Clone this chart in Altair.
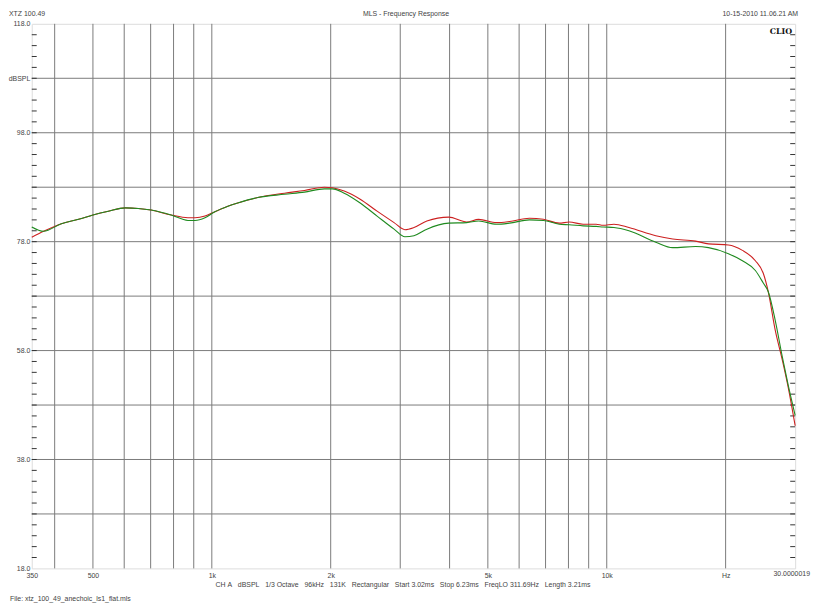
import altair as alt
import pandas as pd

# ---- data ----
freq = [350, 375, 416, 460, 500, 547, 604, 651, 702, 789, 870, 907, 961, 1018, 1098,
        1163, 1307, 1528, 1716, 1928, 2019, 2164, 2375, 2621, 2894, 3083, 3250, 3504,
        3980, 4420, 4738, 5260, 5673, 6370, 6910, 7581, 8035, 8714, 9397, 9790, 10430,
        11380, 13310, 14690, 16790, 18100, 20330, 22060, 23790, 24910, 25650, 26700,
        27810, 28800, 30000]
red = [78.8, 79.9, 81.3, 82.1, 82.9, 83.6, 84.2, 84.1, 83.8, 82.9, 82.4, 82.4, 82.7, 83.5, 84.5,
       85.1, 86.1, 86.9, 87.4, 88.0, 87.9, 87.3, 85.8, 83.6, 81.5, 80.2, 80.6, 81.8,
       82.5, 81.6, 82.1, 81.5, 81.7, 82.3, 82.1, 81.4, 81.6, 81.2, 81.2, 81.0, 81.2,
       80.6, 79.1, 78.5, 78.1, 77.6, 77.4, 76.4, 74.5, 72.2, 68.8, 61.8,
       56.4, 51.3, 44.2]
green = [80.7, 79.9, 81.3, 82.1, 82.9, 83.6, 84.2, 84.1, 83.8, 82.9, 81.9, 81.9, 82.4, 83.5, 84.5,
         85.1, 86.1, 86.7, 87.1, 87.7, 87.7, 86.9, 85.1, 82.7, 80.3, 78.9, 79.1, 80.3,
         81.4, 81.5, 81.8, 81.2, 81.4, 82.0, 81.9, 81.2, 81.1, 80.9, 80.8, 80.7, 80.6,
         80.0, 77.9, 76.9, 77.1, 76.9, 75.8, 74.5, 72.7, 70.4, 68.8, 63.6,
         57.0, 51.7, 46.1]

grid_x = [400, 500, 600, 700, 800, 900, 1000, 2000, 3000, 4000, 5000, 6000, 7000,
          8000, 9000, 10000, 20000]
grid_y = [28, 38, 48, 58, 68, 78, 88, 98, 108]
minor_y = [20, 22, 24, 26, 28, 30, 32, 34, 36, 38, 40, 42, 44, 46, 48, 50, 52, 54, 56,
           58, 60, 62, 64, 66, 68, 70, 72, 74, 76, 78, 80, 82, 84, 86, 88, 90, 92, 94,
           96, 98, 100, 102, 104, 106, 108, 110, 112, 114, 116]
x_label_values = [350, 500, 1000, 2000, 5000, 10000, 20000]
x_label_texts = ["350", "500", "1k", "2k", "5k", "10k", "Hz"]
y_label_values = [18, 38, 58, 78, 98, 108, 118]

W, H = 771, 550
FONT = "Liberation Sans, Arial"
FS = 7
TXT = "#444444"

df_red = pd.DataFrame({"f": freq, "db": red})
df_green = pd.DataFrame({"f": freq, "db": green})
df_gx = pd.DataFrame({"f": grid_x})
df_gy = pd.DataFrame({"db": grid_y})
df_my = pd.DataFrame({"db": minor_y})

xscale = alt.Scale(type="log", domain=[350, 30000], nice=False, zero=False)
yscale = alt.Scale(domain=[18, 118], nice=False, zero=False)

lab_expr = ""
for v, t in zip(x_label_values, x_label_texts):
    lab_expr += f"datum.value == {v} ? '{t}' : "
lab_expr += "''"

xaxis = alt.Axis(values=x_label_values, labelExpr=lab_expr, grid=False, ticks=False,
                 domain=False, title=None, labelFont=FONT, labelFontSize=FS,
                 labelColor=TXT, labelPadding=3, labelFlush=False, labelOverlap=False)
yaxis = alt.Axis(values=y_label_values,
                 labelExpr="datum.value == 108 ? 'dBSPL' : format(datum.value, '.1f')",
                 grid=False, ticks=False, domain=False, title=None, labelFont=FONT,
                 labelFontSize=FS, labelColor=TXT, labelPadding=2, labelFlush=False,
                 labelOverlap=False)

base_grid_x = alt.Chart(df_gx).mark_rule(color="#7a7a7a", strokeWidth=1).encode(
    x=alt.X("f:Q", scale=xscale, axis=xaxis),
)
grid_h = alt.Chart(df_gy).mark_rule(color="#7a7a7a", strokeWidth=1).encode(
    y=alt.Y("db:Q", scale=yscale, axis=yaxis),
)
ticks_left = alt.Chart(df_my).mark_rule(color="#333333", strokeWidth=1).encode(
    y=alt.Y("db:Q", scale=yscale), x=alt.value(0), x2=alt.value(5)
)
ticks_right = alt.Chart(df_my).mark_rule(color="#333333", strokeWidth=1).encode(
    y=alt.Y("db:Q", scale=yscale), x=alt.value(W - 5), x2=alt.value(W)
)
line_red = alt.Chart(df_red).mark_line(color="#cc2020", strokeWidth=1.1,
                                        interpolate="monotone").encode(
    x=alt.X("f:Q", scale=xscale), y=alt.Y("db:Q", scale=yscale)
)
line_green = alt.Chart(df_green).mark_line(color="#1f8a1f", strokeWidth=1.1,
                                            interpolate="monotone").encode(
    x=alt.X("f:Q", scale=xscale), y=alt.Y("db:Q", scale=yscale)
)


def txt(text, x, y, align="left", size=FS, bold=False, font=FONT, color=TXT):
    return alt.Chart(pd.DataFrame({"t": [text]})).mark_text(
        align=align, baseline="middle", fontSize=size, font=font,
        fontWeight="bold" if bold else "normal", color=color
    ).encode(text="t:N", x=alt.value(x), y=alt.value(y))


NB = "\u00a0"
info = (NB * 3).join(["CH A", "dBSPL", "1/3 Octave", "96kHz", "131K", "Rectangular",
                      "Start 3.02ms", "Stop 6.23ms", "FreqLO 311.69Hz", "Length 3.21ms"])
info = info.replace(" ", NB)

texts = [
    txt("XTZ 100.49", -23, -10),
    txt("MLS - Frequency Response", 378, -10, align="center"),
    txt("10-15-2010 11.06.21 AM", 774, -10, align="right"),
    txt("CLIO", 768, 8, align="right", size=8, bold=True, font="DejaVu Serif", color="#111111"),
    txt("30.0000019", 786, 556, align="right"),
    txt(info, 375, 567, align="center"),
    txt("File: xtz_100_49_anechoic_ls1_flat.mls", -22, 581),
]

chart = alt.layer(
    base_grid_x, grid_h, ticks_left, ticks_right, line_red, line_green, *texts
).properties(
    width=W, height=H,
    autosize=alt.AutoSizeParams(type="none"),
    padding={"left": 24, "top": 13, "right": 16, "bottom": 37},
).configure_view(
    stroke="#222222", strokeWidth=1
).configure(background="white")

chart.save("out.html", embed_options={"renderer": "svg", "actions": False})
